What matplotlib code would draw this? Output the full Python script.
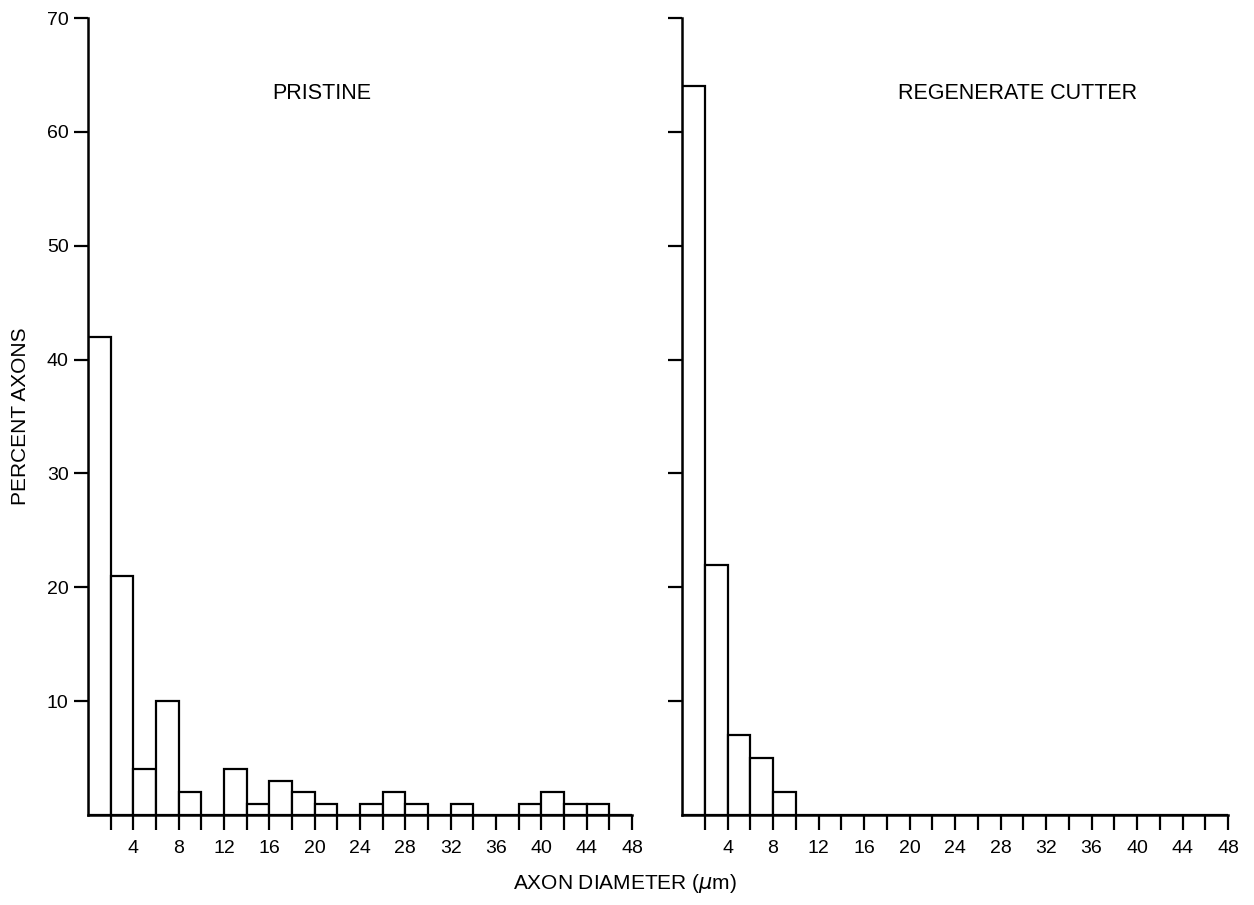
import matplotlib
import numpy as np

matplotlib.use('Agg')
import matplotlib.pyplot as plt  # noqa: E402

plt.rcParams['font.family'] = ['Liberation Sans', 'DejaVu Sans']

# 2-um bins from 0 to 48
bin_edges = np.arange(0, 50, 2)
pristine = [42, 21, 4, 10, 2, 0, 4, 1, 3, 2, 1, 0,
            1, 2, 1, 0, 1, 0, 0, 1, 2, 1, 1, 0]
regenerate = [64, 22, 7, 5, 2, 0, 0, 0, 0, 0, 0, 0,
              0, 0, 0, 0, 0, 0, 0, 0, 0, 0, 0, 0]
panels = [('PRISTINE', pristine, 20.6), ('REGENERATE CUTTER', regenerate, 29.5)]
y_ticks = [10, 20, 30, 40, 50, 60, 70]
x_label_ticks = np.arange(4, 52, 4)

fig = plt.figure(figsize=(12.54, 9.05), dpi=100)
rects = [[0.0702, 0.0994, 0.4338, 0.8807], [0.5439, 0.0994, 0.4354, 0.8807]]

for k, (title, vals, tx) in enumerate(panels):
    ax = fig.add_axes(rects[k])
    ax.bar(bin_edges[:-1], vals, width=2, align='edge', facecolor='white',
           edgecolor='black', linewidth=1.6)
    ax.set_xlim(0, 48)
    ax.set_ylim(0, 70)
    for s in ('top', 'right'):
        ax.spines[s].set_visible(False)
    for s in ('left', 'bottom'):
        ax.spines[s].set_linewidth(1.8)
    ax.set_xticks(np.arange(2, 50, 2), minor=True)
    ax.set_xticks(x_label_ticks)
    ax.set_xticklabels([str(v) for v in x_label_ticks], fontsize=14)
    ax.tick_params(axis='x', which='both', direction='out', length=11,
                   width=1.6, pad=7)
    ax.set_yticks(y_ticks)
    if k == 0:
        ax.set_yticklabels([str(v) for v in y_ticks], fontsize=14)
        ax.set_ylabel('PERCENT AXONS', fontsize=15, labelpad=12)
    else:
        ax.set_yticklabels([])
    ax.tick_params(axis='y', direction='out', length=10, width=1.6, pad=4)
    ax.text(tx, 63.4, title, fontsize=15.5, ha='center', va='center')

fig.text(0.498, 0.024, r'AXON DIAMETER ($\mu$m)', fontsize=15,
         ha='center', va='center')
fig.savefig('out.png', dpi=100)
